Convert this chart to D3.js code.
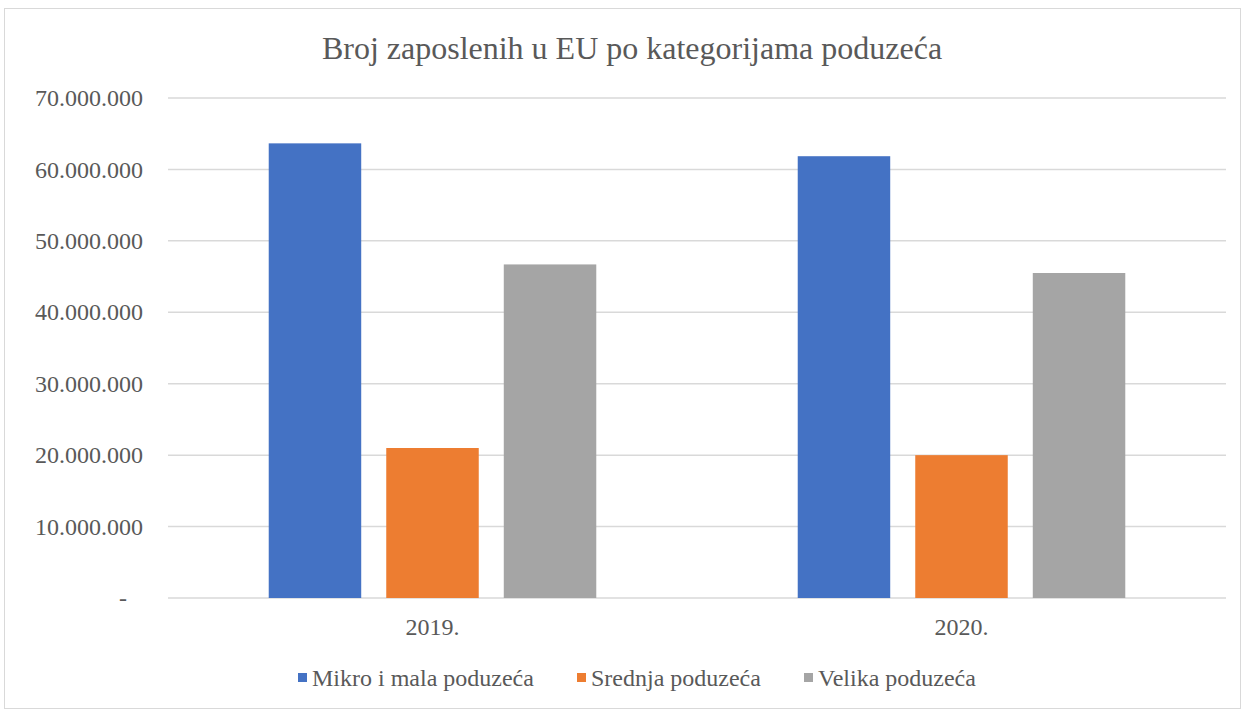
<!DOCTYPE html>
<html>
<head>
<meta charset="utf-8">
<script src="https://cdn.jsdelivr.net/npm/d3@7"></script>
<style>
  body { margin: 0; background: #fff; }
  text { font-family: "Liberation Serif", "Times New Roman", serif; fill: #595959; }
</style>
</head>
<body>
<svg width="1246" height="709"></svg>
<script>
// data
var years = ["2019.", "2020."];
var series = ["Mikro i mala poduzeća", "Srednja poduzeća", "Velika poduzeća"];
var mikroMala = [63650000, 61850000];
var srednja = [21000000, 20000000];
var velika = [46700000, 45500000];
var yTicks = [0, 10000000, 20000000, 30000000, 40000000, 50000000, 60000000, 70000000];
var colors = ["#4472C4", "#ED7D31", "#A5A5A5"];

var values = [mikroMala, srednja, velika];
var rows = [];
years.forEach(function(y, i) {
	series.forEach(function(s, j) {
		rows.push({year: y, series: s, value: values[j][i]});
	});
});

var svg = d3.select("svg");

// chart frame
svg.append("rect")
	.attr("x", 4.5).attr("y", 8.5)
	.attr("width", 1236).attr("height", 700)
	.attr("fill", "white")
	.attr("stroke", "#d9d9d9");

var plotLeft = 168, plotRight = 1226, plotTop = 98, plotBottom = 598;

var x0 = d3.scaleBand()
	.domain(years)
	.range([plotLeft, plotRight])
	.padding(0);

var x1 = d3.scaleBand()
	.domain(series)
	.range([0, x0.bandwidth()])
	.paddingInner(0.213)
	.paddingOuter(0.857);

var yScale = d3.scaleLinear()
	.domain([0, 70000000])
	.range([plotBottom, plotTop]);

var fmt = function(d) {
	return d === 0 ? "-" : d3.format(",")(d).replace(/,/g, ".");
};

// gridlines
svg.append("g")
	.selectAll("line")
	.data(yTicks)
	.enter()
	.append("line")
	.attr("x1", plotLeft).attr("x2", plotRight)
	.attr("y1", function(d) { return yScale(d); })
	.attr("y2", function(d) { return yScale(d); })
	.attr("stroke", "#d9d9d9")
	.attr("stroke-width", 1.5);

// y axis labels
var yAxis = d3.axisLeft(yScale)
	.tickValues(yTicks)
	.tickFormat(fmt)
	.tickSize(0)
	.tickPadding(0);

var yg = svg.append("g")
	.attr("transform", "translate(143,0)")
	.call(yAxis);
yg.attr("font-family", null);
yg.select(".domain").remove();
yg.selectAll("text")
	.style("font-size", "24px")
	.attr("fill", "#595959")
	.attr("dx", function(d) { return d === 0 ? "-16" : "0"; });

// bars
svg.append("g")
	.selectAll("rect")
	.data(rows)
	.enter()
	.append("rect")
	.attr("x", function(d) { return x0(d.year) + x1(d.series); })
	.attr("y", function(d) { return yScale(d.value); })
	.attr("width", x1.bandwidth())
	.attr("height", function(d) { return yScale(0) - yScale(d.value); })
	.attr("fill", function(d) { return colors[series.indexOf(d.series)]; });

// x axis labels
var xAxis = d3.axisBottom(x0)
	.tickSize(0)
	.tickPadding(0);
var xg = svg.append("g")
	.attr("transform", "translate(0,618)")
	.call(xAxis);
xg.attr("font-family", null);
xg.select(".domain").remove();
xg.selectAll("text")
	.style("font-size", "24px")
	.attr("fill", "#595959");

// title
svg.append("text")
	.attr("x", 632)
	.attr("y", 59)
	.attr("text-anchor", "middle")
	.style("font-size", "32px")
	.text("Broj zaposlenih u EU po kategorijama poduzeća");

// legend
var legendX = [298, 577, 804];
var lg = svg.append("g")
	.selectAll("g")
	.data(series)
	.enter()
	.append("g")
	.attr("transform", function(d, i) { return "translate(" + legendX[i] + ",673)"; });
lg.append("rect")
	.attr("width", 9).attr("height", 9)
	.attr("fill", function(d, i) { return colors[i]; });
lg.append("text")
	.attr("x", 14)
	.attr("y", 13)
	.style("font-size", "24px")
	.text(function(d) { return d; });
</script>
</body>
</html>
